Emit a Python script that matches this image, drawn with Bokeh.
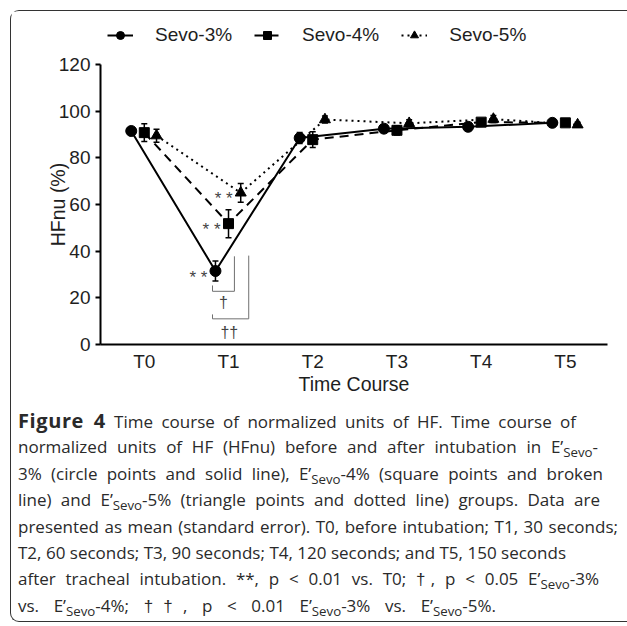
from bokeh.plotting import figure
from bokeh.models import (ColumnDataSource, Legend, LegendItem, Whisker, TeeHead,
                          FixedTicker, Div, InlineStyleSheet)
from bokeh.layouts import column
from bokeh.embed import file_html
from bokeh.resources import INLINE
from bokeh.core.properties import value

# ---------------- data ----------------
time_labels = ["T0", "T1", "T2", "T3", "T4", "T5"]
group_names = ["Sevo-3%", "Sevo-4%", "Sevo-5%"]

sevo3_mean = [91.5, 31.5, 88.5, 92.5, 93.3, 95.0]
sevo3_se = [1.0, 4.3, 2.4, 1.2, 1.2, 1.0]
sevo4_mean = [90.8, 51.8, 87.8, 91.8, 95.3, 95.0]
sevo4_se = [3.8, 6.0, 3.4, 2.0, 1.5, 1.0]
sevo5_mean = [89.5, 65.0, 96.4, 94.8, 96.6, 94.2]
sevo5_se = [2.8, 4.0, 1.5, 1.5, 1.5, 1.0]

y_ticks = [0, 20, 40, 60, 80, 100, 120]

# significance marks at T1 (index 1)
sig_index = 1
bracket_small = dict(left=-0.19, right=0.07, low=22.8, tick=25.3, top=37.8)
bracket_large = dict(left=-0.19, right=0.24, low=11.0, tick=12.9, top=38.1)
dagger_labels = ["\u2020", "\u2020\u2020"]
dagger_pos = [(-0.06, 18.0), (0.01, 5.1)]

# ---------------- styling ----------------
FONT = "Liberation Sans"
TXT = "#1e1e1e"
offsets = [-0.155, 0.0, 0.145]
dashes = ["solid", "9 6", "2 4"]
markers = ["circle", "square", "triangle"]
msizes = [11, 10, 11]

FIG_W = 614

# ---- legend strip (its own small figure; frame aligned with the chart) ----
lg = figure(width=FIG_W, height=41, x_range=(0, 1), y_range=(0, 1),
            output_backend="svg", toolbar_location=None,
            x_axis_location=None, y_axis_location=None,
            min_border=0, outline_line_color=None,
            background_fill_color="white", border_fill_color="white")
lg.xgrid.visible = False
lg.ygrid.visible = False
items = []
for gi in range(3):
    # one point outside the visible range so the legend can draw its glyph
    rl = lg.line(x=[-5, -4], y=[-5, -5], line_color="black", line_width=2, line_dash=dashes[gi])
    rs = lg.scatter(x=[-5], y=[-5], marker=markers[gi], size=msizes[gi],
                    fill_color="black", line_color="black")
    items.append(LegendItem(label=group_names[gi], renderers=[rl, rs]))
legend = Legend(items=items, orientation="horizontal", location=(7, 6),
                padding=0, margin=0, spacing=22, glyph_width=26, glyph_height=20,
                label_height=20, label_standoff=22,
                label_text_font=FONT, label_text_font_size="19px", label_text_color=TXT,
                border_line_color=None, background_fill_alpha=0)
lg.add_layout(legend, "center")

# ---- main chart ----
p = figure(frame_width=507, frame_height=280, x_range=(-0.52, 5.5), y_range=(0, 120),
           output_backend="svg", toolbar_location=None,
           min_border_left=89, min_border_right=18, min_border_top=12, min_border_bottom=10,
           outline_line_color=None, background_fill_color="white", border_fill_color="white")
p.xgrid.visible = False
p.ygrid.visible = False

means = [sevo3_mean, sevo4_mean, sevo5_mean]
ses = [sevo3_se, sevo4_se, sevo5_se]
for gi in range(3):
    xs = [i + offsets[gi] for i in range(len(time_labels))]
    src = ColumnDataSource(dict(x=xs, y=means[gi],
                                lo=[m - s for m, s in zip(means[gi], ses[gi])],
                                hi=[m + s for m, s in zip(means[gi], ses[gi])]))
    p.line("x", "y", source=src, line_color="black", line_width=2, line_dash=dashes[gi])
    w = Whisker(base="x", lower="lo", upper="hi", source=src, dimension="height",
                line_color="black", line_width=1.5,
                lower_head=TeeHead(size=6, line_color="black", line_width=1.5),
                upper_head=TeeHead(size=6, line_color="black", line_width=1.5))
    p.add_layout(w)
    p.scatter("x", "y", source=src, marker=markers[gi], size=msizes[gi],
              fill_color="black", line_color="black")

# significance asterisks next to T1 points
ast_x = [sig_index + offsets[g] for g in range(3)]
ast_y = [means[g][sig_index] for g in range(3)]
p.text(x=ast_x, y=ast_y, text=["* *"] * 3, text_align="right", text_baseline="middle",
       x_offset=-8, y_offset=6, text_font=value(FONT), text_font_size="17px",
       text_color="#444444")

# brackets
for b in (bracket_small, bracket_large):
    bx = [sig_index + b["left"], sig_index + b["left"], sig_index + b["right"], sig_index + b["right"]]
    by = [b["tick"], b["low"], b["low"], b["top"]]
    p.line(bx, by, line_color="#707070", line_width=1)
p.text(x=[sig_index + d[0] for d in dagger_pos], y=[d[1] for d in dagger_pos],
       text=dagger_labels, text_align="center", text_baseline="middle",
       text_font=value(FONT), text_font_size="16px", text_color="#444444")

# axes
p.yaxis.ticker = FixedTicker(ticks=y_ticks)
p.xaxis.ticker = FixedTicker(ticks=list(range(len(time_labels))))
p.xaxis.major_label_overrides = {i: t for i, t in enumerate(time_labels)}
for ax in (p.xaxis, p.yaxis):
    ax.axis_line_width = 2
    ax.axis_line_color = "black"
    ax.major_tick_line_width = 2
    ax.major_tick_in = 0
    ax.minor_tick_in = 0
    ax.minor_tick_out = 0
    ax.major_label_text_font = FONT
    ax.major_label_text_font_size = "19px"
    ax.major_label_text_color = TXT
    ax.axis_label_text_font = FONT
    ax.axis_label_text_font_size = "19.5px"
    ax.axis_label_text_font_style = "normal"
    ax.axis_label_text_color = TXT
p.xaxis.major_tick_out = 0
p.yaxis.major_tick_out = 5
p.xaxis.major_label_standoff = 6
p.yaxis.major_label_standoff = 5
p.xaxis.axis_label = "Time Course"
p.xaxis.axis_label_standoff = -2
p.yaxis.axis_label = "HFnu (%)"
p.yaxis.axis_label_standoff = -13

# ---- caption ----
dag = "<span style=\"font-family:'Liberation Sans';\">\u2020</span>"
dag2 = "<span style=\"font-family:'Liberation Sans';\">\u2020\u2020</span>"
caption_lines = [
    "<b style=\"font-size:20px;letter-spacing:0.6px;\">Figure 4</b> Time course of normalized units of HF. Time course of",
    "normalized units of HF (HFnu) before and after intubation in E\u2019<sub>Sevo</sub>-",
    "3% (circle points and solid line), E\u2019<sub>Sevo</sub>-4% (square points and broken",
    "line) and E\u2019<sub>Sevo</sub>-5% (triangle points and dotted line) groups. Data are",
    "presented as mean (standard error). T0, before intubation; T1, 30 seconds;",
    "T2, 60 seconds; T3, 90 seconds; T4, 120 seconds; and T5, 150 seconds",
    "after tracheal intubation. **, p &lt; 0.01 vs. T0; " + dag + ", p &lt; 0.05 E\u2019<sub>Sevo</sub>-3%",
    "vs. E\u2019<sub>Sevo</sub>-4%; " + dag2 + ", p &lt; 0.01 E\u2019<sub>Sevo</sub>-3% vs. E\u2019<sub>Sevo</sub>-5%.",
]
line_widths = [558, 580, 585, 582, 600, 548, 581, 478]
sub_css = "font-size:0.78em;vertical-align:-0.28em;line-height:0;"
rows = []
for txt, lw in zip(caption_lines, line_widths):
    rows.append("<div style=\"display:block;width:%dpx;text-align:justify;"
                "text-align-last:justify;text-justify:inter-word;white-space:nowrap;"
                "height:26.4px;\">%s</div>"
                % (lw, txt.replace("<sub>", "<sub style=\"%s\">" % sub_css)))
html = "<div style=\"font-family:'Open Sans';font-size:17px;line-height:26.4px;color:#2a2a2a;" \
       "padding:6px 0 0 2px;\">" + "".join(rows) + "</div>"
div = Div(text=html, width=608, height=214)

border_css = (":host { border-top: 1.6px solid #333 !important; "
              "border-left: 1.6px solid #333 !important; "
              "border-bottom: 1.6px solid #333 !important; "
              "border-top-left-radius: 9px !important; "
              "border-bottom-left-radius: 9px !important; }")
layout = column(lg, p, div, margin=(10, 0, 0, 10),
                stylesheets=[InlineStyleSheet(css=border_css)])

open("out.html", "w").write(file_html(layout, INLINE))
